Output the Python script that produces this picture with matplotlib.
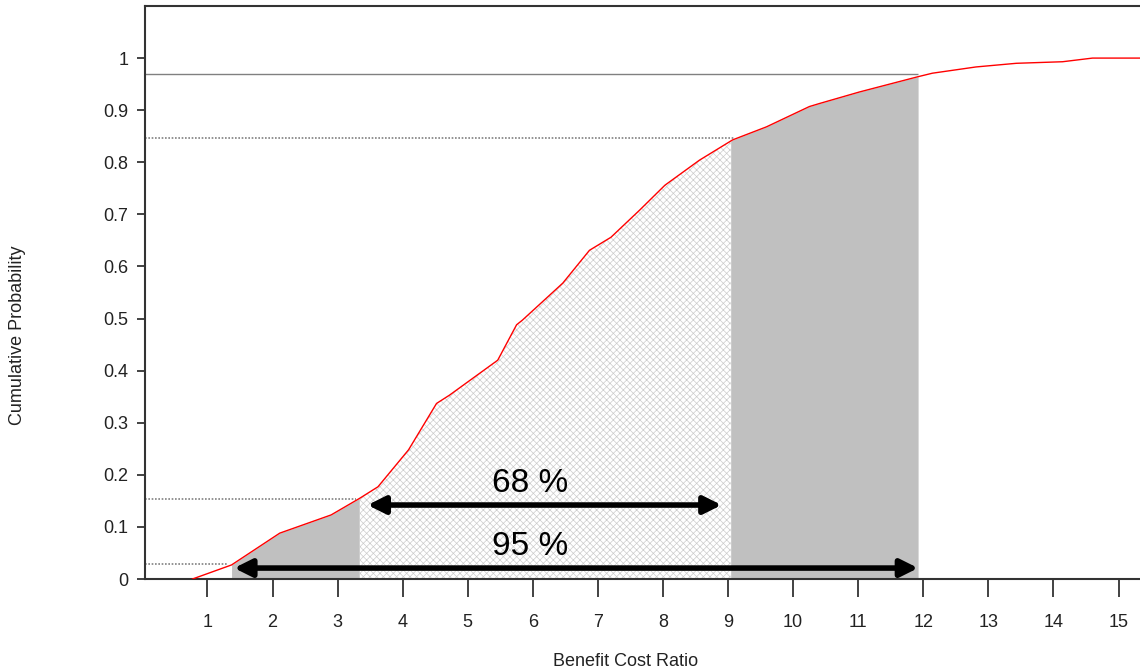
import matplotlib
matplotlib.use("Agg")
import matplotlib.pyplot as plt
import numpy as np

# ---- data ----
cdf_x = [0.77, 1.37, 2.11, 2.9, 3.34, 3.62, 4.09, 4.52, 4.72, 5.46, 5.75, 5.84,
         6.46, 6.87, 7.2, 7.64, 8.03, 8.56, 9.07, 9.59, 10.25, 10.41, 11.02,
         11.91, 12.14, 12.81, 13.43, 14.14, 14.6, 15.32]
cdf_y = [0.0, 0.027, 0.088, 0.123, 0.155, 0.177, 0.248, 0.337, 0.353, 0.420,
         0.488, 0.497, 0.568, 0.631, 0.656, 0.708, 0.756, 0.804, 0.843, 0.868,
         0.907, 0.913, 0.935, 0.964, 0.971, 0.983, 0.990, 0.993, 1.0, 1.0]

lo95, lo68, hi68, hi95 = 1.37, 3.34, 9.04, 11.92
p_lo95, p_lo68, p_hi68, p_hi95 = 0.029, 0.154, 0.846, 0.969
arrow68_x = (3.46, 8.9)
arrow68_y = 0.142
arrow95_x = (1.41, 11.92)
arrow95_y = 0.021
label_x = 5.96
label68 = "68 %"
label95 = "95 %"
xticks = list(range(1, 16))
yticks = [0, 0.1, 0.2, 0.3, 0.4, 0.5, 0.6, 0.7, 0.8, 0.9, 1.0]
ytick_labels = ["0", "0.1", "0.2", "0.3", "0.4", "0.5", "0.6", "0.7", "0.8", "0.9", "1"]
xlabel = "Benefit Cost Ratio"
ylabel = "Cumulative Probability"

plt.rcParams['font.family'] = ['Liberation Sans Narrow', 'Liberation Sans', 'DejaVu Sans']
plt.rcParams['hatch.linewidth'] = 0.5

fig = plt.figure(figsize=(11.4, 6.72), dpi=100)
ax = fig.add_axes([145/1140, 93/672, 1 - 145/1140, (579-6)/672])

xl = (0.04, 15.33)
ax.set_xlim(*xl)
ax.set_ylim(0, 1.1)

cx = np.array(cdf_x); cy = np.array(cdf_y)

def seg(a, b):
    inner = cx[(cx > a) & (cx < b)]
    xs = np.concatenate([[a], inner, [b]])
    ys = np.interp(xs, cx, cy)
    return xs, ys

xs, ys = seg(lo95, lo68)
ax.fill_between(xs, 0, ys, color='#c0c0c0', linewidth=0, zorder=1)
xs, ys = seg(hi68, hi95)
ax.fill_between(xs, 0, ys, color='#c0c0c0', linewidth=0, zorder=1)
xs, ys = seg(lo68, hi68)
ax.fill_between(xs, 0, ys, facecolor='white', edgecolor='#cccccc', hatch='xxxxx',
                linewidth=0, zorder=1)

ax.plot(cx, cy, color='red', lw=1.0, zorder=3)

# reference lines
ax.hlines(p_lo95, xl[0], lo95 - 0.05, colors='#808080', linestyles=(0, (1, 1)), lw=1.2, zorder=2)
ax.hlines(p_lo68, xl[0], lo68 - 0.05, colors='#808080', linestyles=(0, (1, 1)), lw=1.2, zorder=2)
ax.hlines(p_hi68, xl[0], hi68 + 0.05, colors='#808080', linestyles=(0, (1, 1)), lw=1.2, zorder=2)
ax.hlines(p_hi95, xl[0], hi95, colors='#808080', linestyles='-', lw=1.0, zorder=2)

# arrows
for (x0, x1), yy in [(arrow68_x, arrow68_y), (arrow95_x, arrow95_y)]:
    ax.annotate('', xy=(x1, yy), xytext=(x0, yy),
                arrowprops=dict(arrowstyle='<|-|>', lw=4.0, color='black',
                                mutation_scale=26, shrinkA=0, shrinkB=0),
                zorder=4)

ax.text(label_x, arrow68_y + 0.012, label68, ha='center', va='bottom',
        fontsize=24, family=['Liberation Sans', 'DejaVu Sans'], zorder=5)
ax.text(label_x, arrow95_y + 0.012, label95, ha='center', va='bottom',
        fontsize=24, family=['Liberation Sans', 'DejaVu Sans'], zorder=5)

ax.set_xticks(xticks)
ax.set_xticklabels([str(t) for t in xticks])
ax.set_yticks(yticks)
ax.set_yticklabels(ytick_labels)
ax.tick_params(axis='x', direction='out', length=13, width=1.2, pad=12, labelsize=13, colors='#222222')
ax.tick_params(axis='y', direction='out', length=6, width=1.2, pad=6, labelsize=13, colors='#222222')

for s in ['left', 'bottom', 'top']:
    ax.spines[s].set_color('#333333')
    ax.spines[s].set_linewidth(1.5)
ax.spines['right'].set_visible(False)

fig.text(626/1140, 1 - 661/672, xlabel, ha='center', va='center', fontsize=13, color='#222222')
fig.text(18/1140, 1 - 335/672, ylabel, ha='center', va='center', rotation=90, fontsize=13, color='#222222')

fig.savefig('out.png', dpi=100)
